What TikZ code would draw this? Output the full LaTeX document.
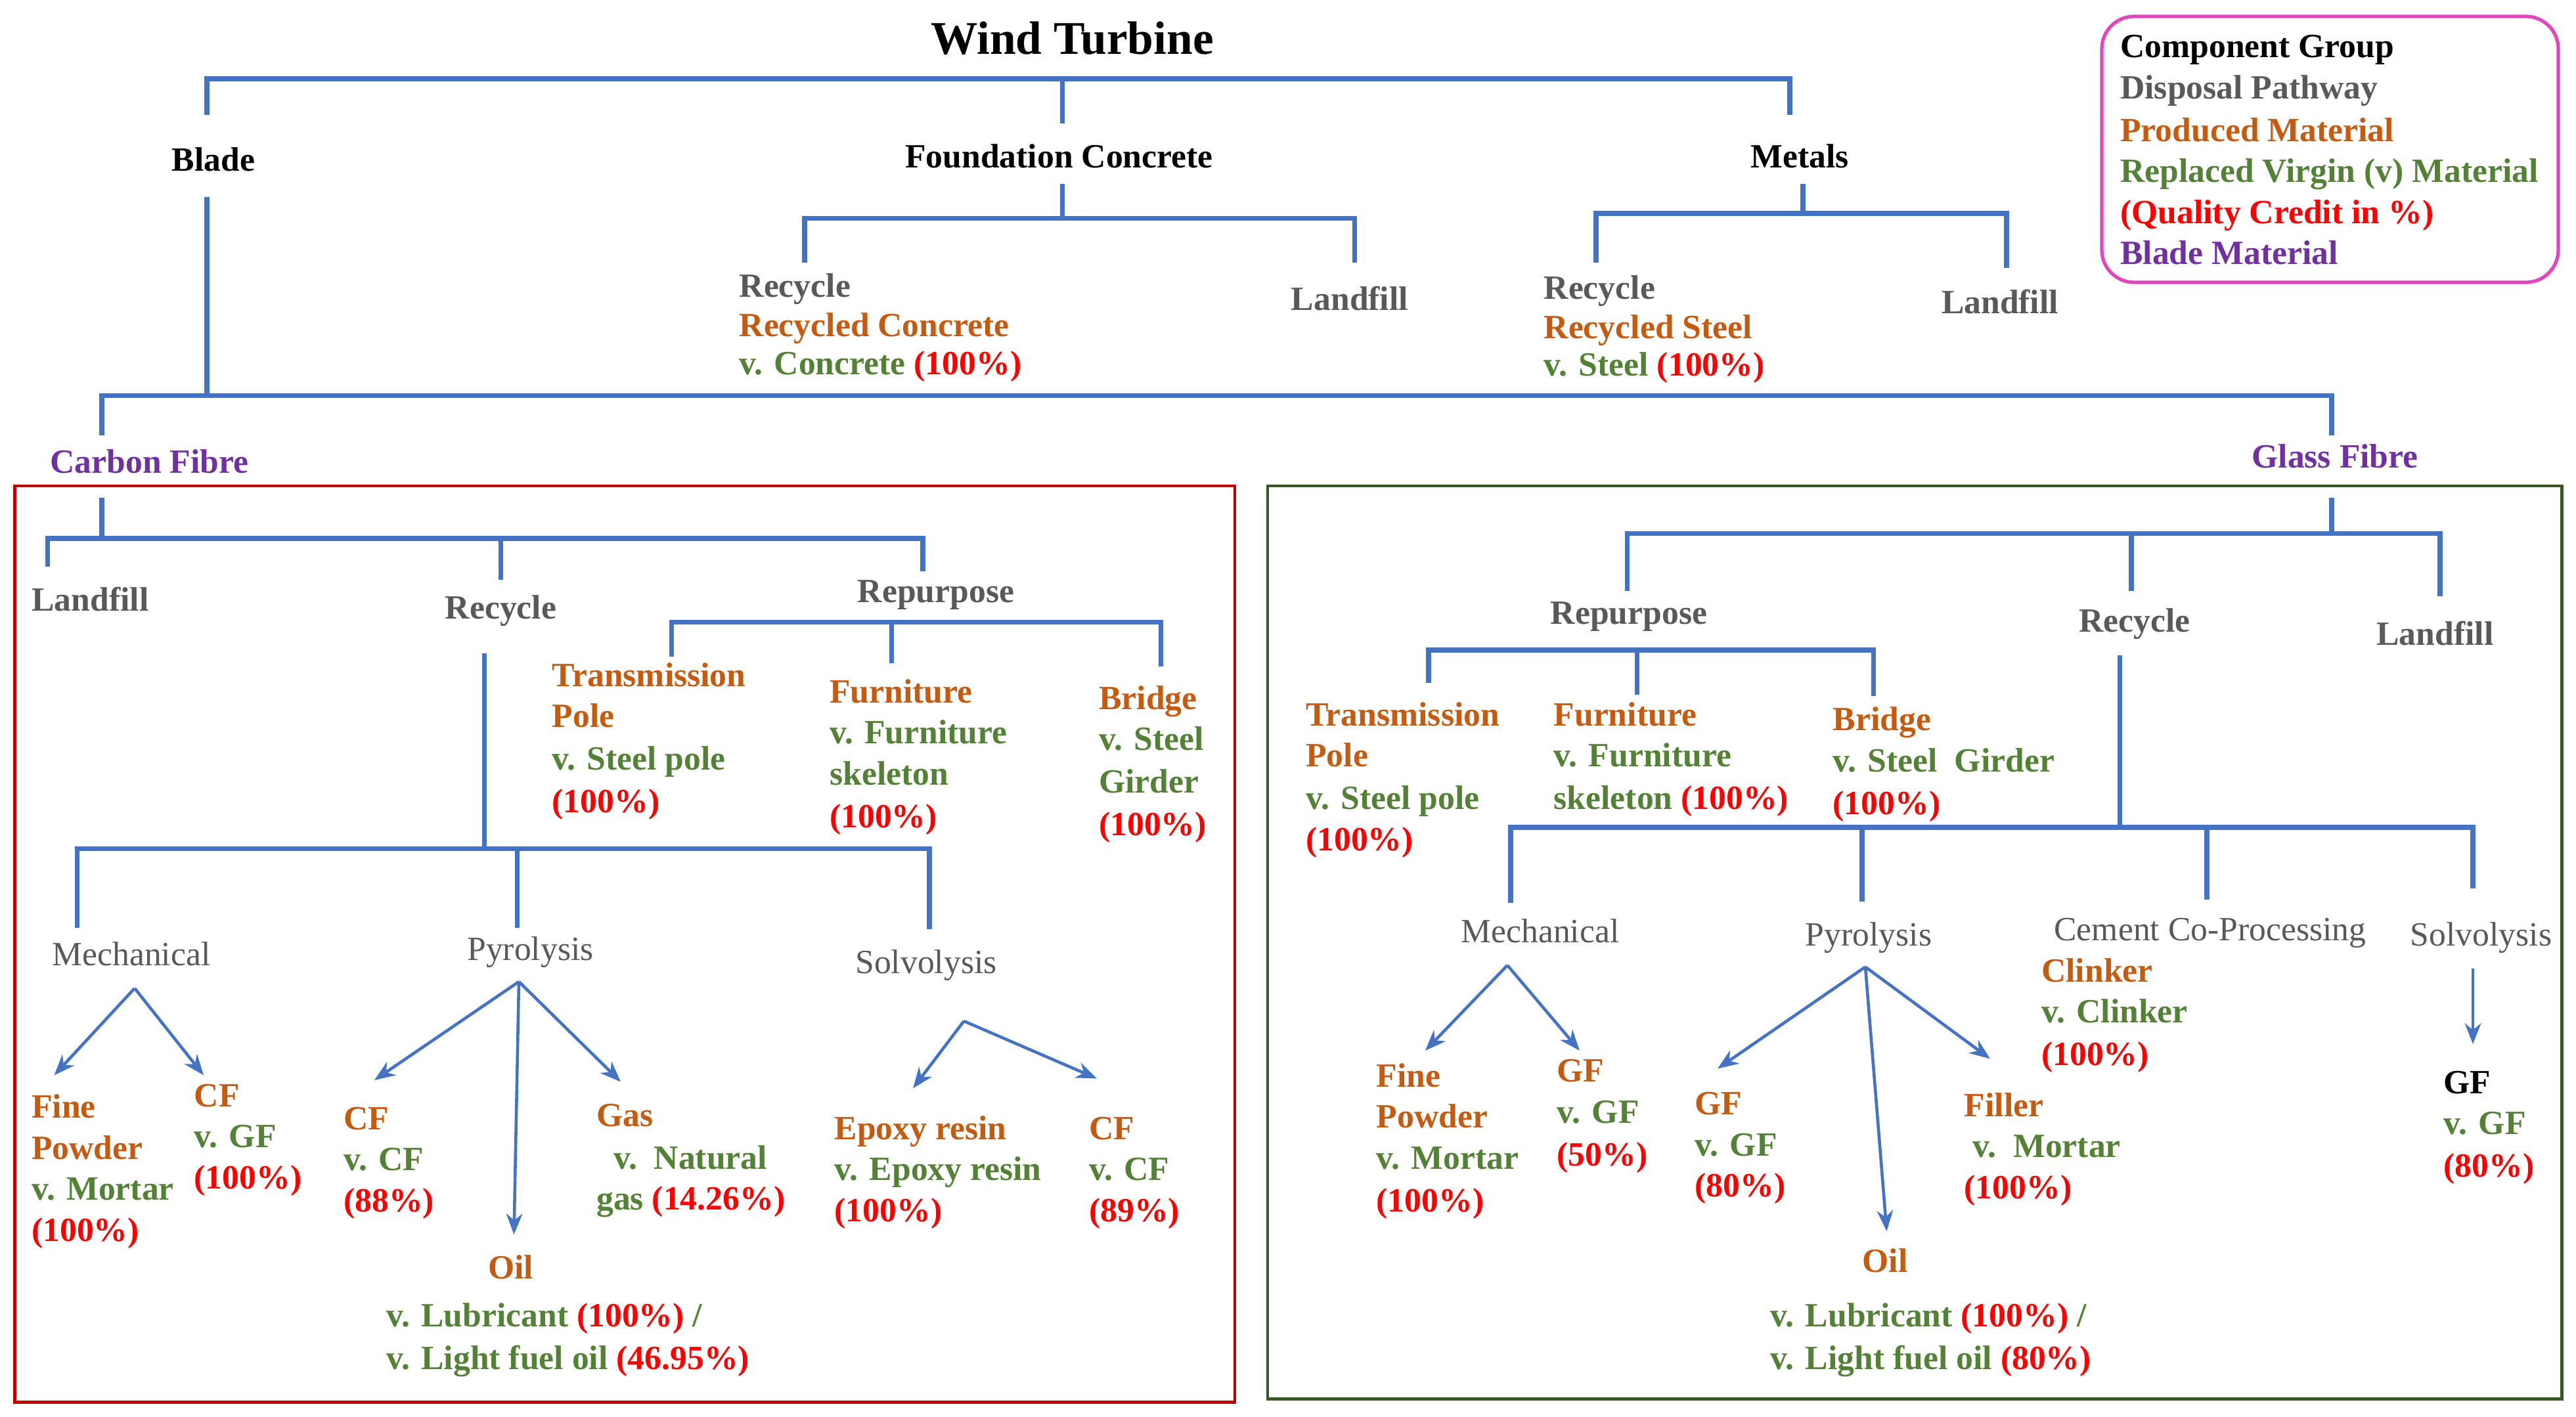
\documentclass[tikz,border=0pt]{standalone}
\usepackage{fontspec}
\setmainfont{Liberation Serif}
\usetikzlibrary{arrows.meta}
\definecolor{cg}{RGB}{89,89,89}
\definecolor{co}{RGB}{197,90,17}
\definecolor{cgr}{RGB}{83,129,53}
\definecolor{cr}{RGB}{255,0,0}
\definecolor{cp}{RGB}{112,48,160}
\definecolor{cb}{RGB}{68,114,196}
\definecolor{cbox}{RGB}{192,0,0}
\definecolor{cgbox}{RGB}{56,87,35}
\definecolor{cleg}{RGB}{225,70,190}
\newcommand\R[1]{{\color{cr}#1}}
\newcommand\tx[5]{\node[#4] (#1) at (#2,#3+6) {#5};}
\tikzset{
 base/.style={inner sep=0pt,font=\bfseries\fontsize{14.7}{17}\selectfont},
 L/.style={base,anchor=base west},
 C/.style={base,anchor=base},
 g/.style={text=cg}, o/.style={text=co}, gr/.style={text=cgr}, r/.style={text=cr}, p/.style={text=cp},
 m/.style={font=\fontsize{14.7}{17}\selectfont},
 br/.style={draw=cb,line width=2.2pt},
 ar/.style={draw=cb,line width=1.3pt,-{Stealth[length=9pt,width=7pt]}},
}
\begin{document}
\begin{tikzpicture}[x=0.025cm,y=-0.025cm]
\useasboundingbox (0,0) rectangle (1568.8,862.8);
% boxes
\draw[cbox,line width=1.4pt] (9,296) rectangle (752,854);
\draw[cgbox,line width=1.4pt] (772,296) rectangle (1560,852);
\draw[cleg,line width=1.5pt,rounded corners=14pt] (1280,10) rectangle (1558,172);
% legend
\tx{l1}{1291}{29}{L}{Component Group}
\tx{l2}{1291}{54}{L,g}{Disposal Pathway}
\tx{l3}{1291}{80}{L,o}{Produced Material}
\tx{l4}{1291}{105}{L,gr}{Replaced Virgin (v) Material}
\tx{l5}{1291}{130}{L,r}{(Quality Credit in \%)}
\tx{l6}{1291}{155}{L,p}{Blade Material}
% top
\node[base,anchor=base,font=\bfseries\fontsize{20.3}{24}\selectfont] (wt) at (653,33) {Wind Turbine};
\tx{blade}{130}{98}{C}{Blade}
\tx{fc}{645}{96}{C}{Foundation Concrete}
\tx{met}{1096}{96}{C}{Metals}
\tx{fr1}{450}{175}{L,g}{Recycle}
\tx{fr2}{450}{199}{L,o}{Recycled Concrete}
\tx{fr3}{450}{222}{L,gr}{v. Concrete \R{(100\%)}}
\tx{fl}{822}{183}{C,g}{Landfill}
\tx{mr1}{940}{176}{L,g}{Recycle}
\tx{mr2}{940}{200}{L,o}{Recycled Steel}
\tx{mr3}{940}{223}{L,gr}{v. Steel \R{(100\%)}}
\tx{ml}{1218}{185}{C,g}{Landfill}
\tx{cf}{91}{282}{C,p}{Carbon Fibre}
\tx{gf}{1422}{279}{C,p}{Glass Fibre}
\draw[br] (126,70)--(126,48)--(1090,48)--(1090,70);
\draw[br] (647,48)--(647,75);
\draw[br] (126,120)--(126,241);
\draw[br] (62,265)--(62,241)--(1420,241)--(1420,265);
\draw[br] (647,112)--(647,133);
\draw[br] (490,160)--(490,133)--(825,133)--(825,160);
\draw[br] (1098,112)--(1098,130);
\draw[br] (972,160)--(972,130)--(1222,130)--(1222,163);
% carbon
\tx{cl}{55}{366}{C,g}{Landfill}
\tx{cr}{305}{371}{C,g}{Recycle}
\tx{crp}{570}{361}{C,g}{Repurpose}
\draw[br] (62,303)--(62,328);
\draw[br] (29,345)--(29,328)--(562,328)--(562,348);
\draw[br] (305,328)--(305,353);
\draw[br] (409,400)--(409,379)--(707,379)--(707,406);
\draw[br] (543,379)--(543,404);
\tx{ct1}{336}{412}{L,o}{Transmission}
\tx{ct2}{336}{437}{L,o}{Pole}
\tx{ct3}{336}{463}{L,gr}{v. Steel pole}
\tx{ct4}{336}{489}{L,r}{(100\%)}
\tx{cfu1}{505}{422}{L,o}{Furniture}
\tx{cfu2}{505}{447}{L,gr}{v. Furniture}
\tx{cfu3}{505}{472}{L,gr}{skeleton}
\tx{cfu4}{505}{498}{L,r}{(100\%)}
\tx{cb1}{669}{426}{L,o}{Bridge}
\tx{cb2}{669}{451}{L,gr}{v. Steel}
\tx{cb3}{669}{477}{L,gr}{Girder}
\tx{cb4}{669}{503}{L,r}{(100\%)}
\draw[br] (295,398)--(295,517);
\draw[br] (47,565)--(47,517)--(566,517)--(566,566);
\draw[br] (315,517)--(315,565);
\tx{cme}{80}{582}{C,g,m}{Mechanical}
\tx{cpy}{323}{579}{C,g,m}{Pyrolysis}
\tx{cso}{564}{587}{C,g,m}{Solvolysis}
\coordinate (cmeA) at (82,602);
\draw[ar] (cmeA)--(33,655);
\draw[ar] (cmeA)--(124,655);
\tx{cfp1}{19}{675}{L,o}{Fine}
\tx{cfp2}{19}{700}{L,o}{Powder}
\tx{cfp3}{19}{725}{L,gr}{v. Mortar}
\tx{cfp4}{19}{750}{L,r}{(100\%)}
\tx{ccf1}{118}{668}{L,o}{CF}
\tx{ccf2}{118}{693}{L,gr}{v. GF}
\tx{ccf3}{118}{718}{L,r}{(100\%)}
\coordinate (cpyA) at (316,598);
\draw[ar] (cpyA)--(228,658);
\draw[ar] (cpyA)--(313,752);
\draw[ar] (cpyA)--(378,659);
\tx{cpc1}{209}{682}{L,o}{CF}
\tx{cpc2}{209}{707}{L,gr}{v. CF}
\tx{cpc3}{209}{732}{L,r}{(88\%)}
\tx{cg1}{363}{680}{L,o}{Gas}
\tx{cg2}{363}{706}{L,gr}{\ \ v.\ \ Natural}
\tx{cg3}{363}{731}{L,gr}{gas \R{(14.26\%)}}
\tx{co1}{311}{773}{C,o}{Oil}
\tx{co2}{235}{802}{L,gr}{v. Lubricant \R{(100\%)} /}
\tx{co3}{235}{828}{L,gr}{v. Light fuel oil \R{(46.95\%)}}
\coordinate (csoA) at (587,622);
\draw[ar] (csoA)--(556,663);
\draw[ar] (csoA)--(668,657);
\tx{ce1}{508}{688}{L,o}{Epoxy resin}
\tx{ce2}{508}{713}{L,gr}{v. Epoxy resin}
\tx{ce3}{508}{738}{L,r}{(100\%)}
\tx{csc1}{663}{688}{L,o}{CF}
\tx{csc2}{663}{713}{L,gr}{v. CF}
\tx{csc3}{663}{738}{L,r}{(89\%)}
% glass
\tx{grp}{992}{374}{C,g}{Repurpose}
\tx{grc}{1300}{379}{C,g}{Recycle}
\tx{gl}{1483}{387}{C,g}{Landfill}
\draw[br] (1420,303)--(1420,325);
\draw[br] (991,360)--(991,325)--(1486,325)--(1486,363);
\draw[br] (1298,325)--(1298,360);
\draw[br] (870,416)--(870,396)--(1141,396)--(1141,424);
\draw[br] (997,396)--(997,423);
\tx{gt1}{795}{436}{L,o}{Transmission}
\tx{gt2}{795}{461}{L,o}{Pole}
\tx{gt3}{795}{487}{L,gr}{v. Steel pole}
\tx{gt4}{795}{512}{L,r}{(100\%)}
\tx{gfu1}{946}{436}{L,o}{Furniture}
\tx{gfu2}{946}{461}{L,gr}{v. Furniture}
\tx{gfu3}{946}{487}{L,gr}{skeleton \R{(100\%)}}
\tx{gb1}{1116}{439}{L,o}{Bridge}
\tx{gb2}{1116}{464}{L,gr}{v. Steel\ \ Girder}
\tx{gb3}{1116}{490}{L,r}{(100\%)}
\draw[br] (1291,399)--(1291,504);
\draw[br] (920,550)--(920,504)--(1506,504)--(1506,541);
\draw[br] (1134,504)--(1134,549);
\draw[br] (1344,504)--(1344,548);
\tx{gme}{938}{568}{C,g,m}{Mechanical}
\tx{gpy}{1138}{570}{C,g,m}{Pyrolysis}
\tx{gcc}{1346}{567}{C,g,m}{Cement Co-Processing}
\tx{gso}{1511}{570}{C,g,m}{Solvolysis}
\tx{gk1}{1243}{592}{L,o}{Clinker}
\tx{gk2}{1243}{617}{L,gr}{v. Clinker}
\tx{gk3}{1243}{643}{L,r}{(100\%)}
\coordinate (gmeA) at (918,588);
\draw[ar] (gmeA)--(868,640);
\draw[ar] (gmeA)--(962,640);
\tx{gfp1}{838}{656}{L,o}{Fine}
\tx{gfp2}{838}{681}{L,o}{Powder}
\tx{gfp3}{838}{706}{L,gr}{v. Mortar}
\tx{gfp4}{838}{732}{L,r}{(100\%)}
\tx{ggf1}{948}{653}{L,o}{GF}
\tx{ggf2}{948}{678}{L,gr}{v. GF}
\tx{ggf3}{948}{704}{L,r}{(50\%)}
\coordinate (gpyA) at (1136,589);
\draw[ar] (gpyA)--(1046,651);
\draw[ar] (gpyA)--(1149,750);
\draw[ar] (gpyA)--(1212,645);
\tx{gpg1}{1032}{673}{L,o}{GF}
\tx{gpg2}{1032}{698}{L,gr}{v. GF}
\tx{gpg3}{1032}{723}{L,r}{(80\%)}
\tx{gfi1}{1196}{674}{L,o}{Filler}
\tx{gfi2}{1196}{699}{L,gr}{\ v.\ \ Mortar}
\tx{gfi3}{1196}{724}{L,r}{(100\%)}
\tx{go1}{1148}{769}{C,o}{Oil}
\tx{go2}{1078}{802}{L,gr}{v. Lubricant \R{(100\%)} /}
\tx{go3}{1078}{828}{L,gr}{v. Light fuel oil \R{(80\%)}}
\draw[ar] (1506,590)--(1506,636);
\tx{gs1}{1488}{660}{L}{GF}
\tx{gs2}{1488}{685}{L,gr}{v. GF}
\tx{gs3}{1488}{711}{L,r}{(80\%)}
\end{tikzpicture}
\end{document}
